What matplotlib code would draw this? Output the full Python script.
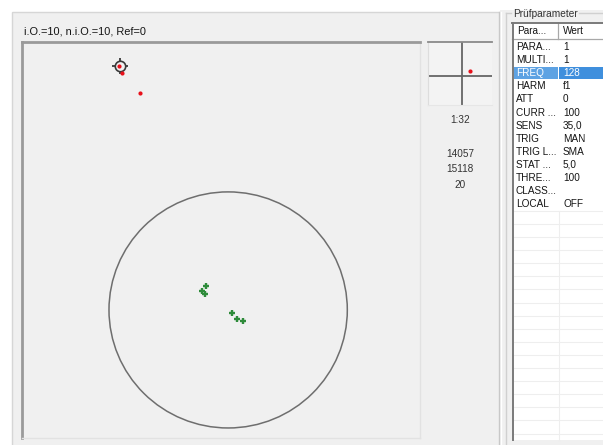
import matplotlib
matplotlib.use("Agg")
import matplotlib.pyplot as plt
from matplotlib.patches import Rectangle, Circle

plt.rcParams['font.family'] = ['Liberation Sans', 'DejaVu Sans']

# ---------------- data ----------------
title_text = "i.O.=10, n.i.O.=10, Ref=0"
tol_radius = 1.0
green_x = [-0.185, -0.218, -0.193, 0.034, 0.076, 0.126]
green_y = [0.203, 0.161, 0.136, -0.025, -0.076, -0.093]
red_x = [-0.916, -0.891, -0.739]
red_y = [2.068, 2.008, 1.839]
ref_x = [-0.908]
ref_y = [2.068]
inset_x = [8]
inset_y = [5]
scale_label = "1:32"
counters = ["14057", "15118", "20"]
group_title = "Prüfparameter"
col_headers = ["Para...", "Wert"]
param_names = ["PARA...", "MULTI...", "FREQ", "HARM", "ATT", "CURR ...", "SENS",
               "TRIG", "TRIG L...", "STAT ...", "THRE...", "CLASS...", "LOCAL"]
param_values = ["1", "1", "128", "f1", "0", "100", "35,0", "MAN", "SMA", "5,0",
                "100", "", "OFF"]
selected_row = 2

# ---------------- figure ----------------
W, H = 603, 445
fig = plt.figure(figsize=(W / 100, H / 100), dpi=100)
fig.patch.set_facecolor('white')
PANEL = '#f0f0f0'
TXT = '#151515'

def fr(x0, y0, x1, y1):
    return [x0 / W, 1 - y1 / H, (x1 - x0) / W, (y1 - y0) / H]

bg = fig.add_axes([0, 0, 1, 1])
bg.set_xlim(0, W)
bg.set_ylim(H, 0)
bg.axis('off')
bg.set_zorder(-5)

# main panel
bg.add_patch(Rectangle((12, 12), 488, 440, facecolor=PANEL, edgecolor='#d6d6d6', lw=1))
bg.add_patch(Rectangle((500, 10), 103, 440, facecolor=PANEL, edgecolor='none'))
bg.plot([498.5, 498.5], [12, 445], color='#c8c8c8', lw=1)
bg.plot([501, 501], [12, 445], color='#ffffff', lw=1)
bg.text(24, 31, title_text, fontsize=7.9, color=TXT, va='center', ha='left')

# group box
bg.plot([506, 506], [445, 13], color='#d0d0d0', lw=1)
bg.plot([506, 511], [13, 13], color='#d0d0d0', lw=1)
bg.plot([579, 603], [13, 13], color='#d0d0d0', lw=1)
bg.text(513, 14, group_title, fontsize=7.3, color='#333333', va='center', ha='left')

# table
tx0, tx1, ty0, ty1 = 512, 603, 22.5, 440
colx = 558
bg.add_patch(Rectangle((tx0, ty0), tx1 - tx0, ty1 - ty0, facecolor='white', edgecolor='none'))
bg.plot([tx0, tx1], [38.5, 38.5], color='#a8a8a8', lw=0.9)
bg.plot([colx, colx], [ty0, 38.5], color='#a8a8a8', lw=0.9)
bg.text(517, 31, col_headers[0], fontsize=7.2, color=TXT, va='center', ha='left')
bg.text(563, 31, col_headers[1], fontsize=7.2, color=TXT, va='center', ha='left')

row_h = 13.1
row0 = 40.5
for i, (n, v) in enumerate(zip(param_names, param_values)):
    yc = row0 + row_h * (i + 0.5)
    col = TXT
    if i == selected_row:
        bg.add_patch(Rectangle((514, yc - 6.2), colx - 514, 12.4, facecolor='#5da2e3', edgecolor='none'))
        bg.add_patch(Rectangle((colx + 1, yc - 6.2), tx1 - colx - 1, 12.4, facecolor='#3f8fdd', edgecolor='none'))
        col = 'white'
    bg.text(516, yc, n, fontsize=7.2, color=col, va='center', ha='left')
    bg.text(563, yc, v, fontsize=7.2, color=col, va='center', ha='left')

# empty rows grid
y = row0 + row_h * len(param_names)
while y < ty1:
    bg.plot([tx0 + 2, tx1], [y, y], color='#eeeeee', lw=0.8)
    y += row_h
bg.plot([colx + 1, colx + 1], [row0 + row_h * len(param_names), ty1], color='#eeeeee', lw=0.8)
bg.plot([tx0 + 0.5, tx0 + 0.5], [ty0, ty1], color='#7a7a7a', lw=1.4)
bg.plot([tx0, tx1], [ty0, ty0], color='#7a7a7a', lw=1.4)

# ---------------- main plot ----------------
ax = fig.add_axes(fr(22, 42, 420, 438))
ax.set_facecolor(PANEL)
ax.set_xlim(-1.73, 1.61)
ax.set_ylim(-1.085, 2.27)
ax.set_xticks([])
ax.set_yticks([])
for s in ['left', 'top']:
    ax.spines[s].set_color('#9a9a9a')
    ax.spines[s].set_linewidth(2)
for s in ['right', 'bottom']:
    ax.spines[s].set_color('#e2e2e2')
    ax.spines[s].set_linewidth(1)

ax.add_patch(Circle((0, 0), tol_radius, facecolor='none', edgecolor='#6e6e6e', lw=1.1))
ax.plot(green_x, green_y, linestyle='none', marker='+', color='#2e8b3a', ms=5, mew=1.7)
ax.plot(ref_x, ref_y, linestyle='none', marker='+', color='#3a3a3a', ms=11.5, mew=1.3)
ax.plot(ref_x, ref_y, linestyle='none', marker='o', mfc=PANEL, mec='#3a3a3a', ms=7.5, mew=1.2)
ax.plot(red_x, red_y, linestyle='none', marker='o', color='#e8101a', ms=3, mew=0)

# ---------------- inset ----------------
ins = fig.add_axes(fr(428, 42, 492, 105))
ins.set_facecolor('#f3f3f3')
ins.set_xlim(-34, 30)
ins.set_ylim(-29, 34)
ins.set_xticks([])
ins.set_yticks([])
ins.spines['top'].set_color('#8a8a8a')
ins.spines['top'].set_linewidth(1.3)
ins.spines['left'].set_color('#dddddd')
ins.spines['right'].set_visible(False)
ins.spines['bottom'].set_color('#e6e6e6')
ins.axhline(0, color='#666666', lw=1.3)
ins.axvline(0, color='#666666', lw=1.3)
ins.plot(inset_x, inset_y, linestyle='none', marker='o', color='#e8101a', ms=3, mew=0)

bg.text(460, 120, scale_label, fontsize=7.2, color='#333333', ha='center', va='center')
for k, c in enumerate(counters):
    bg.text(460, 154 + 15.5 * k, c, fontsize=7.2, color='#333333', ha='center', va='center')

fig.savefig('out.png', dpi=100, facecolor=fig.get_facecolor())
